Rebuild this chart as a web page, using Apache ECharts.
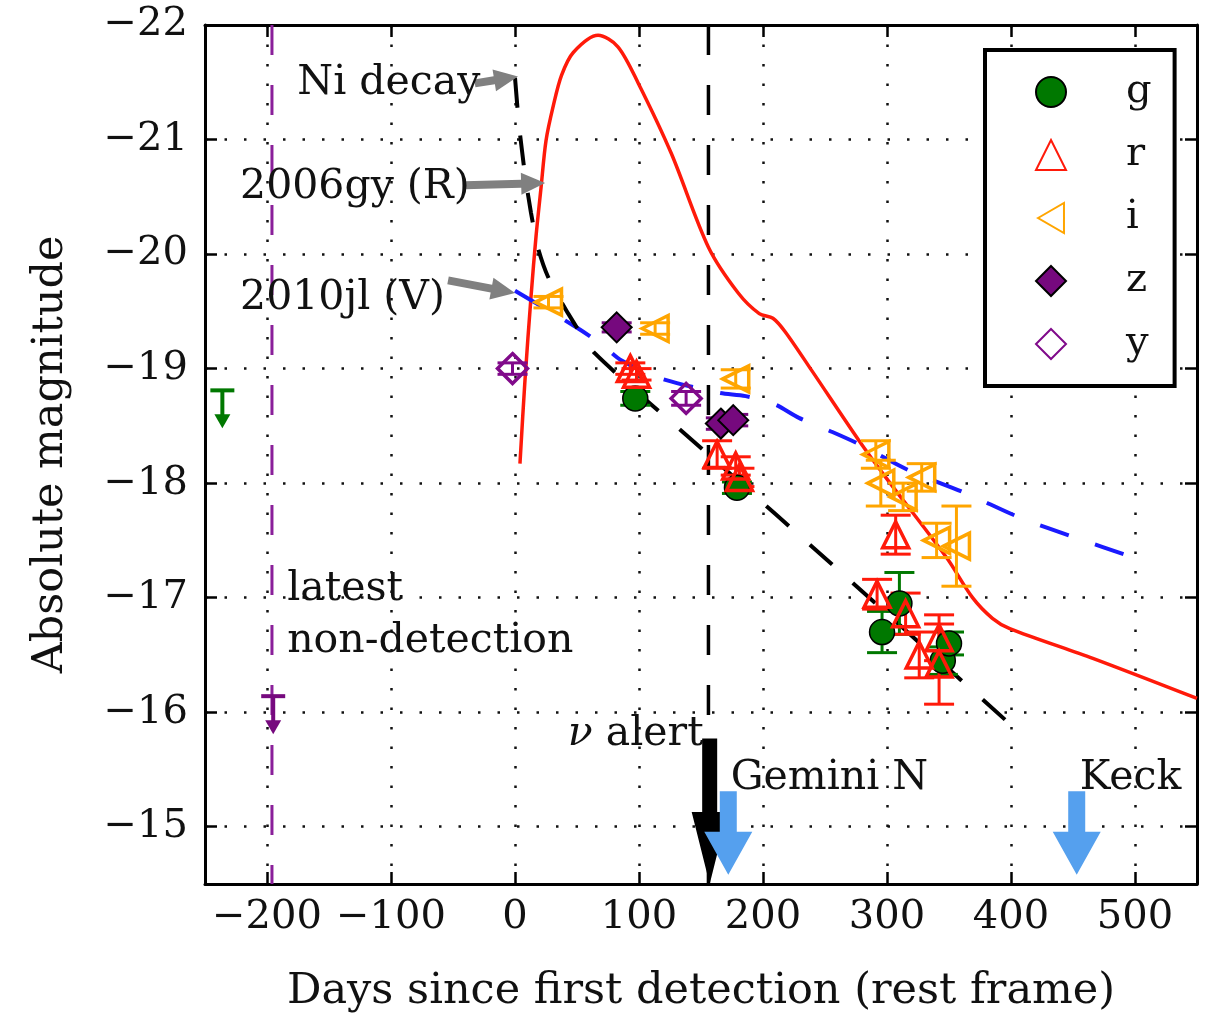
<!DOCTYPE html>
<html>
<head>
<meta charset="utf-8">
<title>Light curve</title>
<script src="https://cdn.jsdelivr.net/npm/echarts@6/dist/echarts.min.js"></script>
<style>
  html, body { margin: 0; padding: 0; background: #ffffff; }
  #chart { width: 1208px; height: 1013px; }
</style>
</head>
<body>
<div id="chart"></div>
<script>
// ---- axis ticks ----
const xTicks = [-200, -100, 0, 100, 200, 300, 400, 500];
const yTicks = [-22, -21, -20, -19, -18, -17, -16, -15];

// ---- photometry: [days, absolute magnitude, error] ----
const gBand = [[97, -18.74, 0.06], [179, -17.96, 0.05], [296, -16.70, 0.18], [310, -16.95, 0.27], [345, -16.45, 0.12], [350, -16.60, 0.10]];
const rBand = [[93, -19.00, 0.05], [98, -18.95, 0.05], [163, -18.25, 0.12], [178, -18.15, 0.08], [181, -18.05, 0.08],
               [292, -17.03, 0.13], [307, -17.55, 0.17], [315, -16.86, 0.18], [326, -16.50, 0.20], [342, -16.65, 0.20], [342, -16.42, 0.35]];
const iBand = [[27, -19.58, 0.05], [113, -19.35, 0.05], [178, -18.91, 0.08],
               [291, -18.25, 0.12], [295, -18.00, 0.20], [313, -17.88, 0.12], [328, -18.05, 0.12], [340, -17.50, 0.15], [356, -17.45, 0.35]];
const zBand = [[82, -19.36, 0.04], [166, -18.52, 0.05], [176, -18.55, 0.05]];
const yBand = [[-2, -19.00, 0.05], [138, -18.74, 0.06]];

// ---- pre-discovery upper limits: [days, magnitude] ----
const limitG = [[-236, -18.81]];
const limitPre = [[-195, -16.14]];

// ---- comparison light curves: [days, magnitude] ----
const sn2006gyR = [[4, -18.17], [8, -18.89], [13, -19.64], [17, -20.16], [21, -20.58], [25, -20.99], [31, -21.30], [37.5, -21.56],
                   [47, -21.76], [67, -21.91], [83, -21.81], [99.5, -21.49], [126, -20.88], [156, -20.06], [180, -19.66], [197, -19.48],
                   [208, -19.44], [218, -19.32], [239.5, -18.98], [277.5, -18.37], [299, -18.05], [348, -17.35], [369, -17.00], [385, -16.82],
                   [399, -16.73], [466, -16.47], [550, -16.12]];
const sn2010jlV = [[0, -19.68], [51, -19.35], [71, -19.20], [86, -19.07], [116, -18.92], [164, -18.79], [186, -18.76], [209, -18.69],
                   [229, -18.57], [253, -18.46], [277.5, -18.34], [318, -18.11], [364, -17.91], [407, -17.70], [453, -17.52], [501.6, -17.34]];
const niDecay = [[0, -21.54], [3.2, -21.13], [8.1, -20.69], [12.9, -20.36], [18.6, -20.05], [26.7, -19.80], [42.9, -19.48],
                 [64.7, -19.13], [156, -18.25], [264, -17.21], [398.8, -15.90]];

// ---- epochs ----
const nonDetectionDay = -196;
const alertDay = 156;

// ---- arrows: [day, magnitude at tail, magnitude at tip] ----
const alertArrow = [[157, -15.77, -14.50]];
const followUpArrows = [[172, -15.31, -14.58], [453, -15.31, -14.58]];

// ---- labelled pointers: [tail day, tail mag, head day, head mag] ----
const pointerArrows = [[-32.4, -21.49, 2.4, -21.55], [-40.5, -20.60, 24.3, -20.62], [-54, -19.77, 0, -19.66]];

// ---- text notes: [day, magnitude, text, alignment] ----
const notes = [
  [-175.6, -21.49, 'Ni decay', 'left'],
  [-221.7, -20.58, '2006gy (R)', 'left'],
  [-221.7, -19.61, '2010jl (V)', 'left'],
  [-183.7, -17.07, 'latest', 'left'],
  [-183.7, -16.62, 'non-detection', 'left'],
  [152.1, -15.81, '{i|ν} alert', 'right'],
  [174, -15.42, 'Gemini N', 'left'],
  [455.5, -15.42, 'Keck', 'left']
];

const FONT = 'DejaVu Serif';
const fmt = v => (v < 0 ? '\u2212' + Math.abs(v) : String(v));
const LEFT_TRIANGLE = 'path://M0,10 L17.3,0 L17.3,20 Z';

const C = {
  g: '#007800', r: '#ff1a0a', i: '#ffa500', z: '#76097e', y: '#800a8a',
  blue: '#1a1aff', purple: '#8a1f9a', arrowBlue: '#55a0ee', gray: '#808080'
};

function errorBars(name, data, color) {
  return {
    name: name, type: 'custom', data: data, z: 3,
    encode: { x: 0, y: 1 },
    renderItem: function (params, api) {
      const x = api.value(0), y = api.value(1), e = api.value(2);
      const a = api.coord([x, y - e]);
      const b = api.coord([x, y + e]);
      const cw = 15;
      const st = { stroke: color, lineWidth: 3 };
      return {
        type: 'group', children: [
          { type: 'line', shape: { x1: a[0], y1: a[1], x2: b[0], y2: b[1] }, style: st },
          { type: 'line', shape: { x1: a[0] - cw, y1: a[1], x2: a[0] + cw, y2: a[1] }, style: st },
          { type: 'line', shape: { x1: b[0] - cw, y1: b[1], x2: b[0] + cw, y2: b[1] }, style: st }
        ]
      };
    }
  };
}

function arrowPoints(p0, p1, shaftW, headW, headL) {
  const dx = p1[0] - p0[0], dy = p1[1] - p0[1];
  const len = Math.hypot(dx, dy);
  const ux = dx / len, uy = dy / len, nx = -uy, ny = ux;
  const bx = p1[0] - ux * headL, by = p1[1] - uy * headL;
  return [
    [p0[0] + nx * shaftW / 2, p0[1] + ny * shaftW / 2],
    [bx + nx * shaftW / 2, by + ny * shaftW / 2],
    [bx + nx * headW / 2, by + ny * headW / 2],
    [p1[0], p1[1]],
    [bx - nx * headW / 2, by - ny * headW / 2],
    [bx - nx * shaftW / 2, by - ny * shaftW / 2],
    [p0[0] - nx * shaftW / 2, p0[1] - ny * shaftW / 2]
  ];
}

function verticalArrows(name, data, color, shaftW, headW, headL) {
  return {
    name: name, type: 'custom', data: data, z: 6,
    encode: { x: 0, y: [1, 2] },
    renderItem: function (params, api) {
      const d = api.value(0);
      const p0 = api.coord([d, api.value(1)]);
      const p1 = api.coord([d, api.value(2)]);
      return { type: 'polygon', shape: { points: arrowPoints(p0, p1, shaftW, headW, headL) }, style: { fill: color } };
    }
  };
}

function upperLimits(name, data, color) {
  return {
    name: name, type: 'custom', data: data, z: 4,
    encode: { x: 0, y: 1 },
    renderItem: function (params, api) {
      const p = api.coord([api.value(0), api.value(1)]);
      const st = { stroke: color, lineWidth: 4 };
      return {
        type: 'group', children: [
          { type: 'line', shape: { x1: p[0] - 12, y1: p[1], x2: p[0] + 12, y2: p[1] }, style: st },
          { type: 'line', shape: { x1: p[0], y1: p[1], x2: p[0], y2: p[1] + 26 }, style: st },
          { type: 'polygon', shape: { points: [[p[0] - 8, p[1] + 24], [p[0] + 8, p[1] + 24], [p[0], p[1] + 38]] }, style: { fill: color } }
        ]
      };
    }
  };
}

function scatter(name, data, symbol, size, style) {
  return {
    name: name, type: 'scatter', data: data, z: 5,
    symbol: symbol, symbolSize: size,
    itemStyle: Object.assign({ opacity: 1 }, style),
    emphasis: { disabled: true }
  };
}

function curve(name, data, color, width, dash, smooth) {
  return {
    name: name, type: 'line', data: data, z: 2,
    smooth: smooth, showSymbol: false, symbol: 'none',
    lineStyle: { color: color, width: width, type: dash },
    emphasis: { disabled: true }
  };
}

const chart = echarts.init(document.getElementById('chart'), null, { renderer: 'canvas' });

const tickStyle = { show: true, inside: true, length: 12, lineStyle: { color: '#000', width: 2.5 } };
const axisLineStyle = { show: true, onZero: false, lineStyle: { color: '#000', width: 3 } };
const gridLine = { show: true, lineStyle: { color: '#111', width: 2.5, type: [2.5, 17] } };

chart.setOption({
  animation: false,
  backgroundColor: '#ffffff',
  grid: { left: 205, right: 11, top: 25, bottom: 129, outerBoundsMode: 'none' },
  legend: {
    data: ['g', 'r', { name: 'i', icon: LEFT_TRIANGLE }, 'z', 'y'],
    orient: 'vertical',
    left: 985, top: 50,
    padding: [22, 23, 22, 50],
    itemWidth: 30, itemHeight: 30, itemGap: 23,
    backgroundColor: '#ffffff',
    borderColor: '#000', borderWidth: 4, borderRadius: 0,
    textStyle: { fontFamily: FONT, fontSize: 40, color: '#111', padding: [0, 0, 0, 55] },
    selectedMode: false
  },
  xAxis: [{
    type: 'value', min: -250, max: 550,
    name: 'Days since first detection (rest frame)', nameLocation: 'middle', nameGap: 86,
    nameTextStyle: { fontFamily: FONT, fontSize: 43, color: '#111' },
    axisLine: axisLineStyle,
    axisTick: Object.assign({ customValues: xTicks }, tickStyle),
    axisLabel: { customValues: xTicks, formatter: fmt, fontFamily: FONT, fontSize: 40, color: '#111', margin: 14 },
    splitLine: gridLine
  }, {
    type: 'value', min: -250, max: 550, position: 'top',
    axisLine: axisLineStyle,
    axisTick: Object.assign({ customValues: xTicks }, tickStyle),
    axisLabel: { show: false },
    splitLine: { show: false }
  }],
  yAxis: [{
    type: 'value', min: -22, max: -14.5, inverse: true,
    name: 'Absolute magnitude', nameLocation: 'middle', nameGap: 133, nameRotate: 90,
    nameTextStyle: { fontFamily: FONT, fontSize: 43, color: '#111' },
    axisLine: axisLineStyle,
    axisTick: Object.assign({ customValues: yTicks }, tickStyle),
    axisLabel: { customValues: yTicks, formatter: fmt, fontFamily: FONT, fontSize: 40, color: '#111', margin: 17 },
    splitLine: gridLine
  }, {
    type: 'value', min: -22, max: -14.5, inverse: true, position: 'right',
    axisLine: axisLineStyle,
    axisTick: Object.assign({ customValues: yTicks }, tickStyle),
    axisLabel: { show: false },
    splitLine: { show: false }
  }],
  series: [
    curve('non-detection epoch', [[nonDetectionDay, -22], [nonDetectionDay, -14.5]], C.purple, 3, [30, 30], false),
    curve('neutrino alert epoch', [[alertDay, -22], [alertDay, -14.5]], '#000', 3.5, [30, 30], false),
    curve('2006gy (R)', sn2006gyR, C.r, 3.5, 'solid', 0.3),
    curve('2010jl (V)', sn2010jlV, C.blue, 4, [30, 28], 0.3),
    curve('Ni decay', niDecay, '#000', 4, [30, 28], 0.2),

    upperLimits('g limit', limitG, C.g),
    upperLimits('pre limit', limitPre, C.z),

    errorBars('g err', gBand, C.g),
    errorBars('r err', rBand, C.r),
    errorBars('i err', iBand, C.i),
    errorBars('z err', zBand, C.z),
    errorBars('y err', yBand, C.y),

    scatter('g', gBand, 'circle', 25, { color: C.g, borderColor: '#000', borderWidth: 1.5 }),
    scatter('r', rBand, 'triangle', 26, { color: 'rgba(255,255,255,0)', borderColor: C.r, borderWidth: 3.5 }),
    scatter('i', iBand, LEFT_TRIANGLE, 26, { color: 'rgba(255,255,255,0)', borderColor: C.i, borderWidth: 3.5 }),
    scatter('z', zBand, 'diamond', 30, { color: C.z, borderColor: '#000', borderWidth: 2 }),
    scatter('y', yBand, 'diamond', 30, { color: 'rgba(255,255,255,0)', borderColor: C.y, borderWidth: 3.5 }),

    verticalArrows('alert arrow', alertArrow, '#000', 15, 36, 72),
    verticalArrows('follow-up arrows', followUpArrows, C.arrowBlue, 17, 48, 43),

    {
      name: 'pointers', type: 'custom', data: pointerArrows, z: 6,
      encode: { x: [0, 2], y: [1, 3] },
      renderItem: function (params, api) {
        const p0 = api.coord([api.value(0), api.value(1)]);
        const p1 = api.coord([api.value(2), api.value(3)]);
        return { type: 'polygon', shape: { points: arrowPoints(p0, p1, 8, 22, 24) }, style: { fill: C.gray } };
      }
    },
    {
      name: 'notes', type: 'custom', data: notes.map(n => [n[0], n[1]]), z: 7,
      encode: { x: 0, y: 1 },
      renderItem: function (params, api) {
        const n = notes[params.dataIndex];
        const p = api.coord([n[0], n[1]]);
        return {
          type: 'text', x: p[0], y: p[1],
          style: {
            text: n[2], fill: '#111', fontFamily: FONT, fontSize: 41,
            align: n[3], verticalAlign: 'middle',
            rich: { i: { fontFamily: FONT, fontSize: 41, fontStyle: 'italic', fill: '#111' } }
          }
        };
      }
    }
  ]
});
</script>
</body>
</html>
